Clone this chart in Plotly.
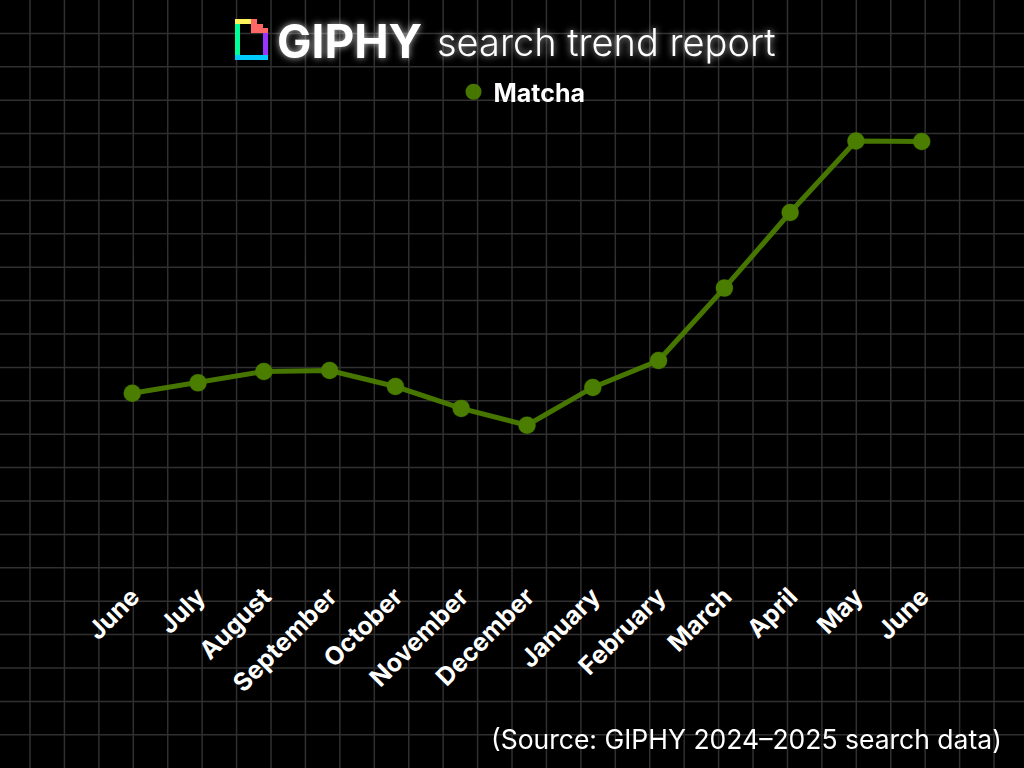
import plotly.graph_objects as go

# ---- data ----
months = ["June", "July", "August", "September", "October", "November", "December",
          "January", "February", "March", "April", "May", "June"]
matcha = [40.1, 42.4, 44.9, 45.1, 41.6, 36.8, 33.1, 41.4, 47.3, 63.2, 79.8, 95.5, 95.4]
series_name = "Matcha"
title_brand = "GIPHY"
title_rest = "search trend report"
source_note = "(Source: GIPHY 2024\u20132025 search data)"

W, H = 1024, 768
GREEN = "#4c7f00"
FONT = "Inter"


def px(x):
    return x / W


def py(y):
    return 1 - y / H


x_idx = list(range(len(months)))

fig = go.Figure()
fig.add_trace(go.Scatter(
    x=x_idx, y=matcha, mode="lines+markers", name=series_name,
    line=dict(color=GREEN, width=5),
    marker=dict(color=GREEN, size=17),
    opacity=0.93, showlegend=False, hoverinfo="skip",
))
fig.add_trace(go.Scatter(
    x=x_idx, y=matcha, mode="markers", name=series_name,
    marker=dict(color=GREEN, size=17),
    opacity=0.93, showlegend=True, hoverinfo="skip",
))

# background grid (decoration)
shapes = []
gx = 30.0
while gx < W:
    shapes.append(dict(type="line", xref="paper", yref="paper", x0=px(gx), x1=px(gx),
                       y0=0, y1=1, line=dict(color="#303030", width=1.5), layer="below"))
    gx += 34.43
gy = 33.4
while gy < H:
    shapes.append(dict(type="line", xref="paper", yref="paper", x0=0, x1=1,
                       y0=py(gy), y1=py(gy), line=dict(color="#303030", width=1.5), layer="below"))
    gy += 33.4


# GIPHY logo mark
def rect(x0, y0, x1, y1, color):
    return dict(type="rect", xref="paper", yref="paper", x0=px(x0), x1=px(x1),
                y0=py(y1), y1=py(y0), fillcolor=color, line=dict(width=0), layer="above")


shapes += [
    rect(235, 19, 240, 60, "#00ff99"),
    rect(235, 19, 252, 24, "#fff35c"),
    rect(263, 31, 268, 60, "#9933ff"),
    rect(235, 55, 268, 60, "#00ccff"),
]
pink = [(251, 19), (257, 19), (257, 24), (263, 24), (263, 28), (268, 28), (268, 33), (251, 33)]
path = "M " + " L ".join(f"{px(a):.5f},{py(b):.5f}" for a, b in pink) + " Z"
shapes.append(dict(type="path", xref="paper", yref="paper", path=path,
                   fillcolor="#ff6666", line=dict(width=0), layer="above"))

glow = "0px 0px 7px rgba(255,255,255,0.75)"
annotations = [
    dict(text=f"<b>{title_brand}</b>", xref="paper", yref="paper", x=px(275), y=py(41),
         xanchor="left", yanchor="middle", showarrow=False,
         font=dict(family=FONT, size=46, color="white", weight=800, shadow=glow)),
    dict(text=title_rest, xref="paper", yref="paper", x=px(435), y=py(42),
         xanchor="left", yanchor="middle", showarrow=False,
         font=dict(family=FONT, size=38, color="white", weight=300, shadow=glow)),
    dict(text=source_note, xref="paper", yref="paper", x=px(1004), y=py(739),
         xanchor="right", yanchor="middle", showarrow=False,
         font=dict(family=FONT, size=26.5, color="white")),
]

fig.update_layout(
    width=W, height=H,
    margin=dict(l=0, r=0, t=0, b=0),
    paper_bgcolor="black", plot_bgcolor="rgba(0,0,0,0)",
    font=dict(family=FONT, color="white"),
    shapes=shapes, annotations=annotations,
    legend=dict(orientation="h", x=px(522), y=py(92), xanchor="center", yanchor="middle",
                font=dict(family=FONT, size=25, color="white", weight="bold"),
                bgcolor="rgba(0,0,0,0)"),
    xaxis=dict(domain=[px(66.5), px(987.5)], range=[-1, 13],
               tickmode="array", tickvals=x_idx, ticktext=months,
               tickangle=-45, showgrid=False, zeroline=False, showline=False, ticks="",
               tickfont=dict(family=FONT, size=25, color="white", weight="bold")),
    yaxis=dict(domain=[py(576), py(120.5)], range=[0, 100], visible=False),
    showlegend=True,
)

fig.write_html(
    "out.html",
    config={"displayModeBar": False},
    post_script="document.body.style.margin='0';document.body.style.background='#000';",
)
